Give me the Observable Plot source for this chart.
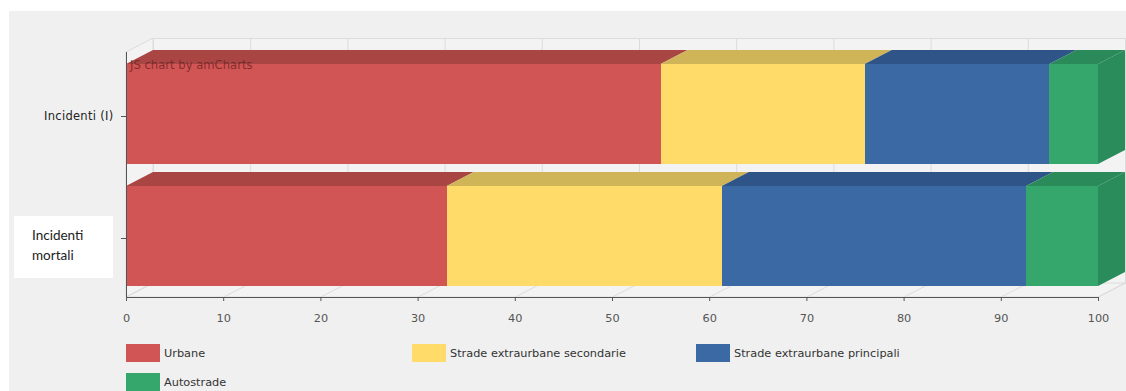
<!DOCTYPE html>
<html>
<head>
<meta charset="utf-8">
<script src="https://cdn.jsdelivr.net/npm/d3@7"></script>
<script src="https://cdn.jsdelivr.net/npm/@observablehq/plot@0.6"></script>
<style>
  html,body{margin:0;padding:0;background:#fff;overflow:hidden}
  #page{position:relative;width:1126px;height:391px;overflow:hidden;font-family:"DejaVu Sans",sans-serif}
  #panel{position:absolute;left:9px;top:11px;right:0;bottom:0;background:#f0f0f0}
  #chart{position:absolute;left:0;top:0}
  #note{position:absolute;left:14px;top:216px;width:99px;height:62px;background:#fff;color:#222;
        font:13.5px/20px Lato,sans-serif;box-sizing:border-box;padding:9px 0 0 18px}
  .sw{position:absolute;width:34px;height:18px}
  .lb{position:absolute;font-size:11.3px;line-height:20px;color:#333;white-space:nowrap}
  #credit{position:absolute;left:130px;top:58px;font-size:11.6px;line-height:15px;color:rgba(105,30,30,.75)}
</style>
</head>
<body>
<div id="page">
  <div id="panel"></div>
  <div id="chart"></div>
  <div id="credit">JS chart by amCharts</div>
  <div id="note">Incidenti<br>mortali</div>
</div>
<script>
const categories = ["Incidenti (I)", "Incidenti mortali"];
const roads = ["Urbane", "Strade extraurbane secondarie", "Strade extraurbane principali", "Autostrade"];
const incidenti = [55, 21, 19, 5];
const mortali = [33, 28.3, 31.3, 7.4];
const xTicks = [0, 10, 20, 30, 40, 50, 60, 70, 80, 90, 100];
const frontColors = ["#d15554", "#ffdc6a", "#3b69a3", "#35a76c"];
const topColors = ["#a94644", "#d0b558", "#2f5488", "#2b8a59"];
const sideColor = "#2a8c5a";
const depthX = 27, depthY = 14;

const rows = [];
[incidenti, mortali].forEach((vals, c) => {
  let acc = 0;
  vals.forEach((v, r) => {
    rows.push({cat: categories[c], road: roads[r], r, x1: acc, x2: acc + v});
    acc += v;
  });
});

const SVGNS = "http://www.w3.org/2000/svg";

// Turn each bar's rect, placed by Plot's scales, into one face of the 3D block.
function face(kind) {
  return (index, scales, values, dims, ctx, next) => {
    const g = next(index, scales, values, dims, ctx);
    d3.select(g).selectAll("rect").each(function() {
      const x = +this.getAttribute("x"), y = +this.getAttribute("y");
      const w = +this.getAttribute("width"), h = +this.getAttribute("height");
      const pts = kind === "top"
        ? [[x, y], [x + depthX, y - depthY], [x + w + depthX, y - depthY], [x + w, y]]
        : [[x + w, y], [x + w + depthX, y - depthY], [x + w + depthX, y + h - depthY], [x + w, y + h]];
      const p = document.createElementNS(SVGNS, "polygon");
      p.setAttribute("points", pts.join(" "));
      p.setAttribute("fill", this.getAttribute("fill"));
      this.replaceWith(p);
    });
    return g;
  };
}

// Left wall and floor of the 3D frame, derived from the plot's frame.
function wall(kind) {
  return (index, scales, values, dims) => {
    const l = dims.marginLeft, r = dims.width - dims.marginRight;
    const t = dims.marginTop, b = dims.height - dims.marginBottom;
    const pts = kind === "left"
      ? [[l, t], [l + depthX, t - depthY], [l + depthX, b - depthY], [l, b]]
      : [[l, b], [l + depthX, b - depthY], [r + depthX, b - depthY], [r, b]];
    const p = document.createElementNS(SVGNS, "polygon");
    p.setAttribute("points", pts.join(" "));
    p.setAttribute("fill", "#f3f3f3");
    p.setAttribute("stroke", "#dcdcdc");
    return p;
  };
}

// Diagonal floor grid lines from each x tick to the back wall.
function floorLines(index, scales, values, dims, ctx, next) {
  const g = next(index, scales, values, dims, ctx);
  d3.select(g).selectAll("line").each(function() {
    const x = +this.getAttribute("x1"), b = dims.height - dims.marginBottom;
    this.setAttribute("x2", x + depthX);
    this.setAttribute("y1", b);
    this.setAttribute("y2", b - depthY);
  });
  return g;
}

const chart = Plot.plot({
  width: 1126,
  height: 335,
  marginLeft: 126,
  marginRight: 28,
  marginTop: 52,
  marginBottom: 38,
  style: {background: "transparent", fontFamily: "DejaVu Sans, sans-serif", fontSize: "11px", overflow: "hidden"},
  x: {domain: [0, 100], label: null},
  y: {domain: categories, range: [53, 298], paddingInner: 0.18, paddingOuter: 0.09, label: null},
  marks: [
    Plot.frame({fill: "#f3f3f3", stroke: "#dcdcdc", dx: depthX, dy: -depthY}),
    Plot.frame({render: wall("left")}),
    Plot.frame({render: wall("floor")}),
    Plot.ruleX(xTicks, {x: d => d, stroke: "#dcdcdc", dx: depthX, dy: -depthY}),
    Plot.ruleX(xTicks, {x: d => d, stroke: "#dcdcdc", render: floorLines}),
    Plot.barX(rows, {x1: "x1", x2: "x2", y: "cat", fill: d => topColors[d.r], render: face("top")}),
    Plot.barX(rows.filter(d => d.r === roads.length - 1), {x1: "x1", x2: "x2", y: "cat", fill: () => sideColor, render: face("side")}),
    Plot.barX(rows, {x1: "x1", x2: "x2", y: "cat", fill: d => frontColors[d.r], shapeRendering: "crispEdges"}),
    Plot.frame({anchor: "left", stroke: "#555"}),
    Plot.frame({anchor: "bottom", stroke: "#555"}),
    Plot.axisX({ticks: xTicks, tickSize: 4, tickPadding: 12, stroke: "#555", color: "#555", fontSize: 11.3, label: null}),
    Plot.axisY({tickSize: 5, tickPadding: 8, stroke: "#555", color: "#222", fontSize: 11.5, dy: 2, label: null,
                tickFormat: d => d === categories[0] ? d : ""})
  ]
});
d3.select(chart).selectAll('[aria-label="y-axis tick label"] text').attr("letter-spacing", 0.3);
document.getElementById("chart").append(chart);

const legendPos = [[126, 344], [412, 344], [696, 344], [126, 373]];
const page = document.getElementById("page");
roads.forEach((name, i) => {
  const [x, y] = legendPos[i];
  const s = document.createElement("div");
  s.className = "sw";
  s.style.cssText = `left:${x}px;top:${y}px;background:${frontColors[i]}`;
  const t = document.createElement("div");
  t.className = "lb";
  t.style.cssText = `left:${x + 38}px;top:${y}px`;
  t.textContent = name;
  page.append(s, t);
});
</script>
</body>
</html>
